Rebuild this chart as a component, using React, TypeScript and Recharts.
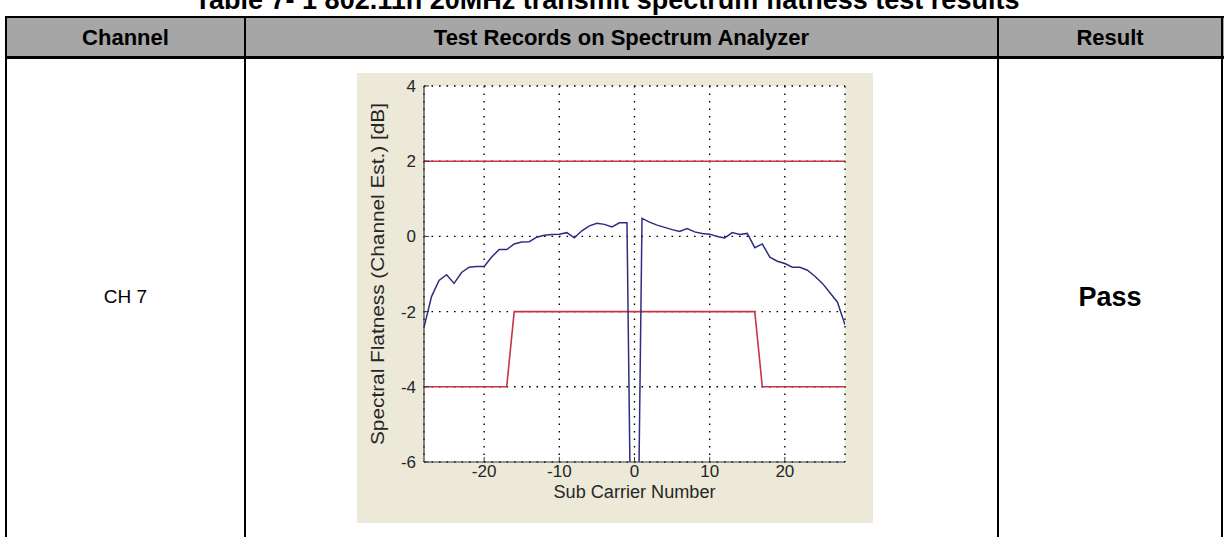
import { LineChart, Line, XAxis, YAxis, CartesianGrid } from "recharts";

// sub carrier index (-28..28, DC at 0)
const subcarriers = [
  -28, -27, -26, -25, -24, -23, -22, -21, -20, -19, -18, -17, -16, -15, -14,
  -13, -12, -11, -10, -9, -8, -7, -6, -5, -4, -3, -2, -1, 0, 1, 2, 3, 4, 5, 6,
  7, 8, 9, 10, 11, 12, 13, 14, 15, 16, 17, 18, 19, 20, 21, 22, 23, 24, 25, 26,
  27, 28,
];
// spectral flatness (channel est.) in dB
const flatness = [
  -2.42, -1.6, -1.17, -1.02, -1.25, -0.96, -0.82, -0.8, -0.8, -0.55, -0.35,
  -0.35, -0.2, -0.15, -0.14, -0.02, 0.03, 0.05, 0.06, 0.1, -0.04, 0.15, 0.28,
  0.35, 0.32, 0.25, 0.36, 0.36, -16, 0.48, 0.38, 0.3, 0.24, 0.18, 0.13, 0.21,
  0.12, 0.08, 0.06, 0.0, -0.04, 0.1, 0.05, 0.08, -0.3, -0.2, -0.55, -0.66,
  -0.72, -0.82, -0.82, -0.9, -1.06, -1.25, -1.5, -1.75, -2.35,
];

// limit masks
const upperMaskX = [-28, 28];
const upperMaskY = [2, 2];
const lowerMaskX = [-28, -17, -16, 16, 17, 28];
const lowerMaskY = [-4, -4, -2, -2, -4, -4];

const xTicks = [-20, -10, 0, 10, 20];
const yTicks = [-6, -4, -2, 0, 2, 4];

const flatnessData = subcarriers.map((x, i) => ({ x, y: flatness[i] }));
const upperData = upperMaskX.map((x, i) => ({ x, y: upperMaskY[i] }));
const lowerData = lowerMaskX.map((x, i) => ({ x, y: lowerMaskY[i] }));

const FONT = "'Liberation Sans', Arial, Helvetica, sans-serif";
const INK = "#262626";
const FRAME = "#3a3a3a";
const tickStyle = { fill: INK, fontSize: 17, fontFamily: FONT };

// axis titles, stretched to the length they have in the reference
const yTitle = ({ viewBox }: any) => {
  const cx = viewBox.x + 21;
  const cy = viewBox.y + viewBox.height / 2;
  return (
    <text
      x={cx}
      y={cy}
      transform={`rotate(-90 ${cx} ${cy})`}
      textAnchor="middle"
      dominantBaseline="central"
      fontSize={18}
      fontFamily={FONT}
      fill={INK}
      textLength={342}
      lengthAdjust="spacingAndGlyphs"
    >
      Spectral Flatness (Channel Est.) [dB]
    </text>
  );
};

const xTitle = ({ viewBox }: any) => {
  const cx = viewBox.x + viewBox.width / 2;
  const cy = viewBox.y + 30;
  return (
    <text
      x={cx}
      y={cy}
      textAnchor="middle"
      dominantBaseline="central"
      fontSize={18}
      fontFamily={FONT}
      fill={INK}
      textLength={162}
      lengthAdjust="spacingAndGlyphs"
    >
      Sub Carrier Number
    </text>
  );
};

function SpectrumFlatnessChart() {
  return (
    <LineChart
      width={516}
      height={450}
      margin={{ top: 13, right: 28, left: 0, bottom: 0 }}
      style={{ background: "#ECE9D8" }}
    >
      <CartesianGrid
        xAxisId="b"
        yAxisId="l"
        fill="#ffffff"
        stroke="#000"
        strokeWidth={1.4}
        strokeDasharray="1.6 5.9"
      />
      <XAxis
        xAxisId="b"
        type="number"
        dataKey="x"
        domain={[-28, 28]}
        ticks={xTicks}
        allowDataOverflow
        height={61}
        tickSize={-5}
        tickMargin={8}
        axisLine={{ stroke: FRAME, strokeWidth: 1.2 }}
        tickLine={{ stroke: FRAME }}
        tick={tickStyle}
        label={xTitle}
      />
      <XAxis
        xAxisId="t"
        orientation="top"
        type="number"
        dataKey="x"
        domain={[-28, 28]}
        ticks={xTicks}
        allowDataOverflow
        height={0}
        tickSize={-5}
        tickFormatter={() => ""}
        axisLine={{ stroke: FRAME, strokeWidth: 1.2 }}
        tickLine={{ stroke: FRAME }}
      />
      <YAxis
        yAxisId="l"
        type="number"
        domain={[-6, 4]}
        ticks={yTicks}
        allowDataOverflow
        width={67}
        tickSize={-5}
        tickMargin={13}
        axisLine={{ stroke: FRAME, strokeWidth: 1.2 }}
        tickLine={{ stroke: FRAME }}
        tick={tickStyle}
        label={yTitle}
      />
      <YAxis
        yAxisId="r"
        orientation="right"
        type="number"
        domain={[-6, 4]}
        ticks={yTicks}
        allowDataOverflow
        width={0}
        tickSize={-5}
        tickFormatter={() => ""}
        axisLine={{ stroke: FRAME, strokeWidth: 1.2 }}
        tickLine={{ stroke: FRAME }}
      />
      <Line
        xAxisId="b"
        yAxisId="l"
        data={upperData}
        dataKey="y"
        type="linear"
        stroke="#C8324A"
        strokeWidth={1.6}
        dot={false}
        isAnimationActive={false}
      />
      <Line
        xAxisId="b"
        yAxisId="l"
        data={lowerData}
        dataKey="y"
        type="linear"
        stroke="#C8324A"
        strokeWidth={1.6}
        dot={false}
        isAnimationActive={false}
      />
      <Line
        xAxisId="b"
        yAxisId="l"
        data={flatnessData}
        dataKey="y"
        type="linear"
        stroke="#2E2E80"
        strokeWidth={1.5}
        dot={false}
        isAnimationActive={false}
      />
    </LineChart>
  );
}

const abs = (s: React.CSSProperties): React.CSSProperties => ({
  position: "absolute",
  ...s,
});

const headCell = (left: number, width: number): React.CSSProperties =>
  abs({
    left,
    top: 19,
    width,
    height: 37,
    lineHeight: "37px",
    textAlign: "center",
    fontWeight: "bold",
    fontSize: 22,
  });

export default function App() {
  return (
    <div
      style={{
        position: "fixed",
        left: 0,
        top: 0,
        width: 1228,
        height: 537,
        background: "#fff",
        overflow: "hidden",
        fontFamily: FONT,
        color: "#000",
      }}
    >
      {/* table caption, cut at the top edge */}
      <div
        style={abs({
          left: 0,
          top: -13,
          width: 1214,
          textAlign: "center",
          fontWeight: "bold",
          fontSize: 27,
          lineHeight: "27px",
          whiteSpace: "nowrap",
        })}
      >
        Table 7- 1 802.11n 20MHz transmit spectrum flatness test results
      </div>

      {/* header row */}
      <div style={abs({ left: 6, top: 17, width: 1218, height: 40, background: "#A6A6A6" })} />
      <div style={abs({ left: 6, top: 16, width: 1218, height: 2, background: "#000" })} />
      <div style={abs({ left: 6, top: 56, width: 1218, height: 3, background: "#000" })} />

      {/* column rules */}
      <div style={abs({ left: 5, top: 16, width: 2, height: 521, background: "#000" })} />
      <div style={abs({ left: 244, top: 16, width: 2, height: 521, background: "#000" })} />
      <div style={abs({ left: 997, top: 16, width: 2, height: 521, background: "#000" })} />
      <div style={abs({ left: 1221, top: 16, width: 2, height: 521, background: "#000" })} />

      {/* header labels */}
      <div style={headCell(7, 237)}>Channel</div>
      <div style={headCell(246, 751)}>Test Records on Spectrum Analyzer</div>
      <div style={headCell(999, 222)}>Result</div>

      {/* body cells */}
      <div style={abs({ left: 7, top: 282, width: 237, height: 30, lineHeight: "30px", textAlign: "center", fontSize: 19 })}>
        CH 7
      </div>
      <div style={abs({ left: 999, top: 282, width: 222, height: 30, lineHeight: "30px", textAlign: "center", fontWeight: "bold", fontSize: 27 })}>
        Pass
      </div>

      <div style={abs({ left: 357, top: 73 })}>
        <SpectrumFlatnessChart />
      </div>
    </div>
  );
}
